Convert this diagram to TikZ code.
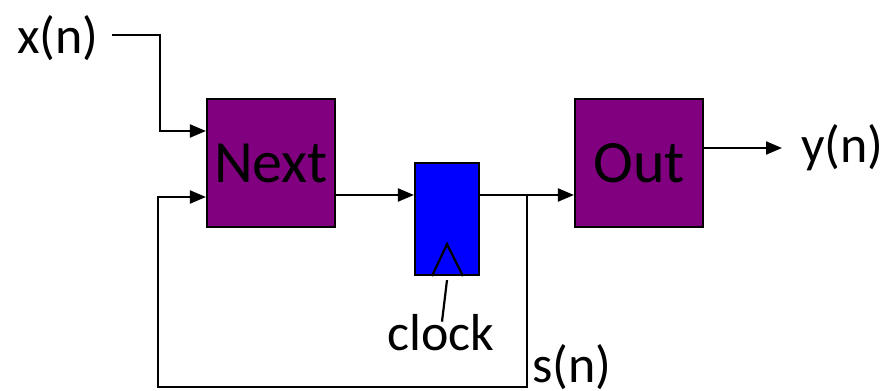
\documentclass[tikz,border=0pt]{standalone}
\usepackage{fontspec}
\setmainfont{Carlito}
\usetikzlibrary{arrows.meta, positioning}
\definecolor{fsmpurple}{HTML}{800080}
\definecolor{regblue}{HTML}{0000FF}

\begin{document}
\begin{tikzpicture}[x=1pt, y=-1pt, on grid, line width=2.2pt,
    >={Triangle[length=16pt, width=13pt]},
    block/.style={draw, fill=fsmpurple, minimum width=128pt, minimum height=128pt,
      inner sep=0pt, font=\fontsize{60}{72}\selectfont},
    lbl/.style={inner sep=0pt, font=\fontsize{52}{62}\selectfont}]
  \useasboundingbox (0,0) rectangle (887,391);
  % blocks
  \node[block] (next) at (271,163) {Next};
  \node[draw, fill=regblue, minimum width=64pt, minimum height=112pt,
    below right=56pt and 176pt of next] (reg) {};
  \node[block, right=368pt of next] (out) {Out};
  % labels
  \node[lbl] (xn) at (58,38) {x(n)};
  \node[lbl, anchor=west] (yn) at (800,148) {y(n)};
  \node[lbl] (clk) at (441,333) {clock};
  \node[lbl] (sn) at (572,367) {s(n)};
  % points on the wires
  \coordinate (nup) at ([yshift=32pt]next.west);
  \coordinate (nin) at ([yshift=-34pt]next.west);
  \coordinate (nout) at ([yshift=-32pt]next.east);
  \coordinate (br) at (527,195);
  \coordinate (bot) at (527,387);
  % wires
  \draw[->] ([xshift=12pt, yshift=3pt]xn.east) -- ++(48,0) |- (nup);
  \draw[->] (nout) -- (nout -| reg.west);
  \draw[->] (reg.east |- nout) -- (out.west |- nout);
  \draw[->] (br) -- (bot) -| ([xshift=-48pt]nin) -- (nin);
  \draw[->] (out.east |- yn.west) -- ([xshift=-18pt]yn.west);
  % clock input
  \draw[line join=miter] ([xshift=-15pt]reg.south) -- ([yshift=32pt]reg.south)
    -- ([xshift=16pt]reg.south);
  \draw ([xshift=1pt, yshift=-8pt]clk.north) -- ([yshift=-4pt]reg.south);
\end{tikzpicture}
\end{document}
